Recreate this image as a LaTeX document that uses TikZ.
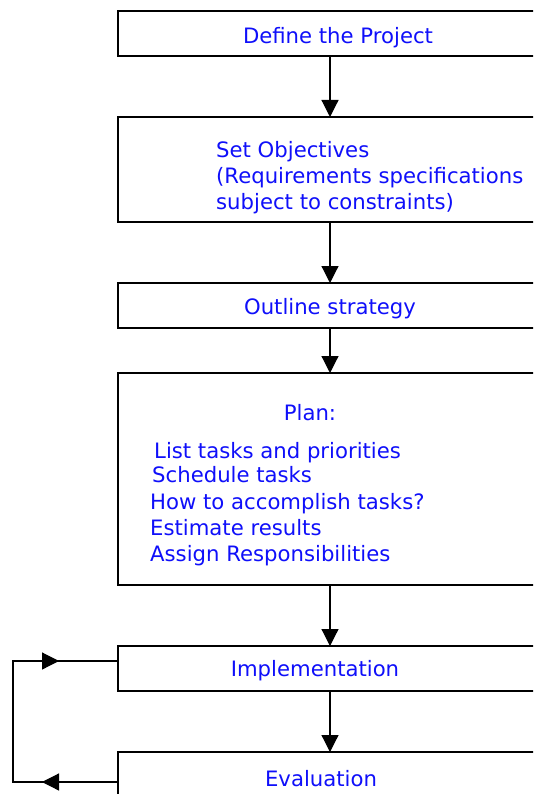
\documentclass[tikz,border=0pt]{standalone}
\usepackage{fontspec}
\setmainfont{DejaVu Sans}
\usetikzlibrary{arrows.meta}
\definecolor{txtblue}{RGB}{15,15,250}
\begin{document}
\begin{tikzpicture}[x=1pt,y=-1pt,
  box/.style={draw=black,line width=1.2pt},
  lbl/.style={text=txtblue,font=\fontsize{21.2}{26}\selectfont,inner sep=0pt,anchor=base},
  lbll/.style={lbl,anchor=base west},
  arr/.style={line width=1.2pt,-{Triangle[length=17pt,width=17pt]}},
  ln/.style={line width=1.2pt}]
\useasboundingbox (0,0) rectangle (533,794);
\fill[white] (0,0) rectangle (533,794);
\clip (0,0) rectangle (533,794);
% boxes
\draw[box] (118,11) rectangle (560,56);
\draw[box] (118,117) rectangle (560,222);
\draw[box] (118,283) rectangle (560,328);
\draw[box] (118,373) rectangle (560,585);
\draw[box] (118,646) rectangle (560,691);
\draw[box] (118,752) rectangle (560,820);
% anchor coordinates on boxes
\coordinate (b1b) at (330,56);
\coordinate (b2t) at (330,117);
\coordinate (b2b) at (330,222);
\coordinate (b3t) at (330,283);
\coordinate (b3b) at (330,328);
\coordinate (b4t) at (330,373);
\coordinate (b4b) at (330,585);
\coordinate (b5t) at (330,646);
\coordinate (b5b) at (330,691);
\coordinate (b6t) at (330,752);
\coordinate (b5w) at (118,661);
\coordinate (b6w) at (118,782);
\coordinate (lb) at (13,782);
\coordinate (lt) at (13,661);
\coordinate (ah1s) at (60,782);
\coordinate (ah1e) at (42,782);
\coordinate (ah2s) at (41,661);
\coordinate (ah2e) at (59,661);
% texts
\node[lbl] (t1) at (338,43.5) {Define the Project};
\node[lbll] (t2a) at (216,157.5) {Set Objectives};
\node[lbll] (t2b) at (216,183.5) {(Requirements specifications};
\node[lbll] (t2c) at (216,209.5) {subject to constraints)};
\node[lbl] (t3) at (330,314.5) {Outline strategy};
\node[lbl] (t4) at (310,420.5) {Plan:};
\node[lbll] (t4a) at (154,458.5) {List tasks and priorities};
\node[lbll] (t4b) at (152,482.5) {Schedule tasks};
\node[lbll] (t4c) at (150,509.5) {How to accomplish tasks?};
\node[lbll] (t4d) at (150,535.5) {Estimate results};
\node[lbll] (t4e) at (150,561.5) {Assign Responsibilities};
\node[lbl] (t5) at (315,676) {Implementation};
\node[lbl] (t6) at (321,786) {Evaluation};
% connectors
\draw[arr] (b1b) -- (b2t);
\draw[arr] (b2b) -- (b3t);
\draw[arr] (b3b) -- (b4t);
\draw[arr] (b4b) -- (b5t);
\draw[arr] (b5b) -- (b6t);
\draw[ln] (b6w) -- (lb) -- (lt) -- (b5w);
\draw[arr] (ah1s) -- (ah1e);
\draw[arr] (ah2s) -- (ah2e);
\end{tikzpicture}
\end{document}
